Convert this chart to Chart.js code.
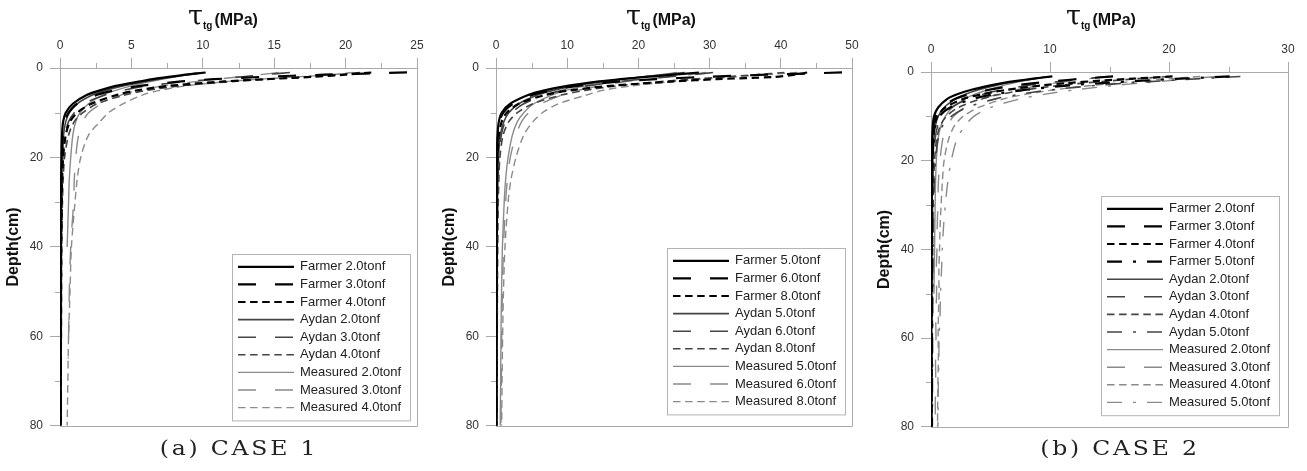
<!DOCTYPE html>
<html>
<head>
<meta charset="utf-8">
<script src="https://cdn.jsdelivr.net/npm/chart.js@4.4.0/dist/chart.umd.min.js"></script>
<style>
  body { margin: 0; background: #fff; width: 1307px; height: 471px; position: relative; overflow: hidden; font-family: "Liberation Sans", Arial, sans-serif; }
  .box { position: absolute; top: 0; }
  .tau { position: absolute; top: 0; white-space: nowrap; color: #111; }
  .tau .g { font-family: "DejaVu Serif", serif; font-size: 27px; }
  .tau sub { font-weight: bold; font-size: 10px; margin-right: 2px; }
  .tau .u { font-weight: bold; font-size: 16px; }
  .cap { position: absolute; top: 436px; font-family: "DejaVu Serif", serif; font-size: 21px; color: #222; transform: translateX(-50%) scaleX(1.12); letter-spacing: 2.5px; white-space: nowrap; }
</style>
</head>
<body>
<div class="box" style="left:0"><canvas id="c1" width="436" height="440"></canvas></div>
<div class="box" style="left:436px"><canvas id="c2" width="435" height="440"></canvas></div>
<div class="box" style="left:871px"><canvas id="c3" width="436" height="441"></canvas></div>

<div class="tau" style="left:188px"><span class="g">τ</span><sub>tg</sub><span class="u">(MPa)</span></div>
<div class="tau" style="left:626px"><span class="g">τ</span><sub>tg</sub><span class="u">(MPa)</span></div>
<div class="tau" style="left:1066px"><span class="g">τ</span><sub>tg</sub><span class="u">(MPa)</span></div>

<div class="cap" style="left:239px">(a) CASE 1</div>
<div class="cap" style="left:1120px">(b) CASE 2</div>

<script>
Chart.defaults.font.family = '"Liberation Sans", Arial, sans-serif';

// ---- CASE 1, left panel (2.0 / 3.0 / 4.0 tonf) ----
const depth1 = [1, 1.5, 2, 2.5, 3, 4, 5, 6, 8, 10, 12, 15, 20, 25, 30, 40, 50, 60, 65, 70, 80];
const labels1 = ['Farmer 2.0tonf', 'Farmer 3.0tonf', 'Farmer 4.0tonf', 'Aydan 2.0tonf', 'Aydan 3.0tonf', 'Aydan 4.0tonf', 'Measured 2.0tonf', 'Measured 3.0tonf', 'Measured 4.0tonf'];
const farmer2_a = [10.2, 8.8, 7.6, 6.5, 5.6, 3.9, 2.8, 1.9, 0.9, 0.4, 0.22, 0.14, 0.1, 0.08, 0.07, 0.06, 0.05, 0.05, 0.05, 0.04, 0.04];
const farmer3_a = [24.3, 18.5, 14.0, 10.8, 8.5, 5.6, 3.8, 2.6, 1.2, 0.6, 0.33, 0.2, 0.13, 0.1, 0.09, 0.07, 0.06, 0.06, 0.05, 0.05, 0.05];
const farmer4_a = [21.8, 20.0, 17.6, 14.4, 11.5, 7.6, 5.4, 4.0, 2.2, 1.2, 0.7, 0.4, 0.22, 0.15, 0.12, 0.09, 0.08, 0.07, 0.06, 0.06, 0.06];
const aydan2_a = [10.0, 9.0, 7.9, 6.9, 6.0, 4.4, 3.2, 2.3, 1.2, 0.65, 0.4, 0.25, 0.16, 0.12, 0.1, 0.08, 0.07, 0.06, 0.06, 0.06, 0.05];
const aydan3_a = [16.1, 14.3, 12.6, 10.8, 9.0, 6.1, 4.4, 3.2, 1.7, 1.0, 0.6, 0.35, 0.2, 0.15, 0.12, 0.09, 0.08, 0.07, 0.07, 0.06, 0.06];
const aydan4_a = [21.0, 19.4, 17.2, 14.6, 12.2, 8.4, 6.1, 4.6, 2.6, 1.6, 1.0, 0.6, 0.32, 0.22, 0.17, 0.12, 0.1, 0.09, 0.08, 0.08, 0.07];
const meas2_a = [9.6, 8.8, 8.0, 7.2, 6.4, 5.0, 3.9, 3.0, 2.0, 1.4, 1.1, 0.9, 0.75, 0.65, 0.6, 0.5, null, null, null, null, null];
const meas3_a = [15.3, 14.0, 12.5, 11.0, 9.6, 7.2, 5.5, 4.3, 2.9, 2.0, 1.6, 1.3, 1.1, 1.0, 0.95, 0.75, 0.65, 0.6, 0.58, null, null];
const meas4_a = [20.5, 19.0, 16.5, 14.0, 11.8, 8.8, 7.0, 5.8, 4.4, 3.4, 2.8, 2.0, 1.45, 1.2, 1.05, 0.8, 0.7, 0.6, 0.57, 0.55, 0.5];

// ---- CASE 1, middle panel (5.0 / 6.0 / 8.0 tonf) ----
const depth2 = [1, 1.5, 2, 2.5, 3, 4, 5, 6, 8, 10, 12, 15, 20, 25, 30, 40, 50, 60, 70, 80];
const labels2 = ['Farmer 5.0tonf', 'Farmer 6.0tonf', 'Farmer 8.0tonf', 'Aydan 5.0tonf', 'Aydan 6.0tonf', 'Aydan 8.0tonf', 'Measured 5.0tonf', 'Measured 6.0tonf', 'Measured 8.0tonf'];
const farmer5_b = [28.5, 25.0, 21.0, 17.5, 14.5, 10.0, 6.8, 4.6, 2.0, 0.8, 0.4, 0.22, 0.14, 0.1, 0.09, 0.07, 0.06, 0.05, 0.05, 0.05];
const farmer6_b = [48.6, 38.0, 29.0, 22.5, 17.5, 11.5, 7.7, 5.2, 2.4, 1.0, 0.5, 0.28, 0.17, 0.12, 0.1, 0.08, 0.07, 0.06, 0.06, 0.05];
const farmer8_b = [43.7, 42.0, 39.0, 31.0, 25.0, 16.0, 10.5, 7.0, 3.2, 1.5, 0.8, 0.4, 0.22, 0.16, 0.13, 0.1, 0.09, 0.08, 0.07, 0.07];
const aydan5_b = [26.5, 23.5, 20.5, 17.5, 15.0, 11.0, 8.0, 5.9, 3.2, 1.8, 1.1, 0.6, 0.35, 0.25, 0.2, 0.15, 0.12, 0.11, 0.1, 0.1];
const aydan6_b = [30.5, 27.5, 24.0, 20.5, 17.5, 12.8, 9.4, 7.0, 3.9, 2.2, 1.3, 0.75, 0.42, 0.3, 0.24, 0.18, 0.15, 0.13, 0.12, 0.11];
const aydan8_b = [40.5, 36.5, 32.0, 27.5, 23.5, 17.0, 12.5, 9.3, 5.2, 3.0, 1.8, 1.0, 0.55, 0.4, 0.32, 0.24, 0.2, 0.17, 0.16, 0.15];
const meas5_b = [25.4, 23.0, 20.5, 18.0, 16.0, 12.5, 9.8, 7.9, 5.3, 3.9, 3.0, 2.3, 1.7, 1.35, 1.15, 0.9, 0.78, 0.7, 0.65, 0.6];
const meas6_b = [29.5, 27.0, 24.0, 21.0, 18.5, 14.5, 11.5, 9.3, 6.3, 4.6, 3.6, 2.8, 2.0, 1.6, 1.35, 1.05, 0.9, 0.8, 0.75, 0.7];
const meas8_b = [42.3, 38.0, 33.5, 29.0, 25.0, 19.0, 15.0, 12.8, 8.8, 6.5, 5.2, 3.9, 2.8, 2.1, 1.7, 1.26, 1.05, 0.93, 0.85, 0.8];

// ---- CASE 2 (2.0 / 3.0 / 4.0 / 5.0 tonf) ----
const depth3 = [1, 1.5, 2, 2.5, 3, 4, 5, 6, 8, 10, 12, 15, 20, 25, 30, 35, 40, 45, 50, 55, 60, 65, 70, 75, 80];
const labels3 = ['Farmer 2.0tonf', 'Farmer 3.0tonf', 'Farmer 4.0tonf', 'Farmer 5.0tonf', 'Aydan 2.0tonf', 'Aydan 3.0tonf', 'Aydan 4.0tonf', 'Aydan 5.0tonf', 'Measured 2.0tonf', 'Measured 3.0tonf', 'Measured 4.0tonf', 'Measured 5.0tonf'];
const farmer2_c = [10.2, 8.6, 7.2, 6.0, 5.0, 3.4, 2.2, 1.4, 0.6, 0.25, 0.15, 0.1, 0.07, 0.05, 0.04, 0.04, 0.03, 0.03, 0.03, 0.02, 0.02, 0.02, 0.02, 0.02, 0.02];
const farmer3_c = [15.3, 12.8, 10.6, 8.7, 7.2, 4.9, 3.2, 2.1, 0.9, 0.4, 0.22, 0.14, 0.09, 0.07, 0.06, 0.05, 0.05, 0.04, 0.04, 0.04, 0.04, 0.03, 0.03, 0.03, 0.03];
const farmer4_c = [20.3, 17.0, 14.0, 11.5, 9.4, 6.4, 4.3, 2.8, 1.2, 0.55, 0.3, 0.18, 0.12, 0.09, 0.08, 0.07, 0.06, 0.06, 0.05, 0.05, 0.05, 0.05, 0.04, 0.04, 0.04];
const farmer5_c = [25.1, 21.0, 17.4, 14.3, 11.7, 8.0, 5.4, 3.6, 1.6, 0.7, 0.38, 0.22, 0.14, 0.11, 0.09, 0.08, 0.07, 0.07, 0.06, 0.06, 0.05, 0.05, 0.05, 0.05, 0.04];
const aydan2_c = [10.0, 8.7, 7.5, 6.4, 5.5, 4.0, 2.9, 2.1, 1.1, 0.6, 0.38, 0.24, 0.15, 0.11, 0.09, 0.08, 0.07, 0.07, 0.06, 0.06, 0.05, 0.05, 0.05, 0.05, 0.05];
const aydan3_c = [15.0, 13.0, 11.2, 9.6, 8.2, 6.0, 4.4, 3.2, 1.7, 0.95, 0.58, 0.35, 0.22, 0.16, 0.13, 0.11, 0.1, 0.1, 0.09, 0.09, 0.08, 0.08, 0.07, 0.07, 0.07];
const aydan4_c = [20.0, 17.4, 15.0, 12.8, 10.9, 8.0, 5.9, 4.3, 2.3, 1.3, 0.8, 0.48, 0.3, 0.22, 0.18, 0.16, 0.14, 0.13, 0.12, 0.12, 0.11, 0.1, 0.1, 0.1, 0.09];
const aydan5_c = [26.0, 22.6, 19.4, 16.5, 14.0, 10.2, 7.5, 5.5, 3.0, 1.7, 1.0, 0.6, 0.38, 0.28, 0.22, 0.19, 0.17, 0.16, 0.15, 0.14, 0.13, 0.13, 0.12, 0.12, 0.11];
const meas2_c = [9.8, 8.8, 7.8, 6.9, 6.1, 4.8, 3.7, 2.9, 1.8, 1.2, 0.85, 0.6, 0.45, 0.38, 0.35, 0.32, 0.3, 0.27, 0.25, null, null, null, null, null, null];
const meas3_c = [14.8, 13.3, 11.8, 10.4, 9.2, 7.2, 5.6, 4.4, 2.8, 1.9, 1.4, 1.0, 0.75, 0.62, 0.58, 0.52, 0.5, 0.44, 0.47, 0.4, 0.42, 0.38, 0.4, 0.36, 0.38];
const meas4_c = [22.6, 20.2, 17.8, 15.6, 13.6, 10.4, 8.0, 6.2, 4.0, 2.7, 2.0, 1.5, 1.1, 0.95, 0.85, 0.76, 0.72, 0.66, 0.68, 0.62, 0.6, 0.62, 0.58, 0.56, 0.55];
const meas5_c = [24.0, 22.0, 19.8, 17.6, 15.6, 12.2, 9.6, 7.6, 5.0, 3.6, 2.9, 2.2, 1.7, 1.4, 1.2, 1.05, 0.95, 0.88, 0.8, 0.76, 0.68, 0.66, 0.62, 0.6, 0.58];

// line look per model, dash per load (1st, 2nd, 3rd, 4th load)
const modelStyle = {
  Farmer: { color: '#000', width: 2.2 },
  Aydan: { color: '#444', width: 1.6 },
  Measured: { color: '#8a8a8a', width: 1.4 }
};
const loadDash = [[], [18, 19], [7.5, 4.6], [15, 11, 3, 11]];

function makeSets(depth, labels, series, nLoads) {
  return series.map((vals, i) => {
    const model = labels[i].split(' ')[0];
    const st = modelStyle[model];
    return {
      label: labels[i],
      data: depth.map((d, k) => ({ x: vals[k], y: d })).filter(p => p.x !== null),
      showLine: true,
      borderColor: st.color,
      borderWidth: st.width,
      borderDash: loadDash[i % nLoads],
      pointRadius: 0,
      tension: 0.3,
      fill: false
    };
  });
}

// legend box drawn inside the plot, bottom right
const boxLegend = {
  id: 'boxLegend',
  afterDraw(chart, args, o) {
    const { ctx, chartArea } = chart;
    const sets = chart.data.datasets;
    const h = o.rowH * sets.length + o.padY * 2;
    const x = Math.round(chartArea.right - o.right - o.width);
    const y = Math.round(chartArea.bottom - o.bottom - h);
    ctx.save();
    ctx.fillStyle = '#fff';
    ctx.fillRect(x, y, o.width, h);
    ctx.strokeStyle = '#b4b4b4';
    ctx.lineWidth = 1;
    ctx.strokeRect(x + 0.5, y + 0.5, o.width, h);
    ctx.font = '13px "Liberation Sans", Arial, sans-serif';
    ctx.textBaseline = 'middle';
    ctx.fillStyle = '#222';
    sets.forEach((ds, i) => {
      const cy = y + o.padY + o.rowH * (i + 0.5);
      ctx.beginPath();
      ctx.setLineDash(ds.borderDash);
      ctx.strokeStyle = ds.borderColor;
      ctx.lineWidth = ds.borderWidth;
      ctx.moveTo(x + 6, cy);
      ctx.lineTo(x + 62, cy);
      ctx.stroke();
      ctx.setLineDash([]);
      ctx.fillText(ds.label, x + 68, cy);
    });
    ctx.restore();
  }
};

// right / bottom frame + half-step ticks
const frameTicks = {
  id: 'frameTicks',
  afterDraw(chart, args, o) {
    const { ctx, chartArea: a, scales } = chart;
    ctx.save();
    ctx.strokeStyle = '#aaa';
    ctx.lineWidth = 1;
    ctx.beginPath();
    ctx.moveTo(Math.round(a.right) + 0.5, a.top);
    ctx.lineTo(Math.round(a.right) + 0.5, Math.round(a.bottom) + 0.5);
    ctx.lineTo(a.left, Math.round(a.bottom) + 0.5);
    for (let v = o.x; v < scales.x.max; v += 2 * o.x) {
      const px = Math.round(scales.x.getPixelForValue(v)) + 0.5;
      ctx.moveTo(px, a.top);
      ctx.lineTo(px, a.top - 5);
    }
    for (let v = o.y; v < scales.y.max; v += 2 * o.y) {
      const py = Math.round(scales.y.getPixelForValue(v)) + 0.5;
      ctx.moveTo(a.left, py);
      ctx.lineTo(a.left - 5, py);
    }
    ctx.stroke();
    ctx.restore();
  }
};

function makeChart(id, sets, xMax, xStep, top, bottomPad, legendOpts) {
  return new Chart(document.getElementById(id), {
    type: 'scatter',
    data: { datasets: sets },
    options: {
      responsive: false,
      animation: false,
      devicePixelRatio: 1,
      layout: { padding: { left: 0, top: 0, right: 19, bottom: bottomPad } },
      plugins: {
        legend: { display: false },
        tooltip: { enabled: false },
        boxLegend: legendOpts,
        frameTicks: { x: xStep / 2, y: 10 }
      },
      scales: {
        x: {
          type: 'linear', position: 'top', min: 0, max: xMax,
          ticks: { stepSize: xStep, color: '#333', font: { size: 12 }, padding: 5 },
          grid: { drawOnChartArea: false, tickLength: 10, color: '#aaa' },
          border: { color: '#aaa' },
          afterFit: s => { s.height = top; }
        },
        y: {
          type: 'linear', reverse: true, min: 0, max: 80,
          ticks: { stepSize: 20, color: '#333', font: { size: 12 }, padding: 7 },
          grid: { drawOnChartArea: false, tickLength: 10, color: '#aaa' },
          border: { color: '#aaa' },
          title: { display: true, text: 'Depth(cm)', color: '#111', font: { size: 16, weight: 'bold' }, padding: { top: 4, bottom: 0 } },
          afterFit: s => { s.width = 60; }
        }
      }
    },
    plugins: [boxLegend, frameTicks]
  });
}

makeChart('c1',
  makeSets(depth1, labels1, [farmer2_a, farmer3_a, farmer4_a, aydan2_a, aydan3_a, aydan4_a, meas2_a, meas3_a, meas4_a], 3),
  25, 5, 68, 7, { right: 7, bottom: 5, width: 178, rowH: 17.6, padY: 4 });

makeChart('c2',
  makeSets(depth2, labels2, [farmer5_b, farmer6_b, farmer8_b, aydan5_b, aydan6_b, aydan8_b, meas5_b, meas6_b, meas8_b], 3),
  50, 10, 68, 7, { right: 7, bottom: 11, width: 178, rowH: 17.6, padY: 4 });

makeChart('c3',
  makeSets(depth3, labels3, [farmer2_c, farmer3_c, farmer4_c, farmer5_c, aydan2_c, aydan3_c, aydan4_c, aydan5_c, meas2_c, meas3_c, meas4_c, meas5_c], 4),
  30, 10, 72, 6, { right: 9, bottom: 12, width: 178, rowH: 17.6, padY: 4 });
</script>
</body>
</html>
